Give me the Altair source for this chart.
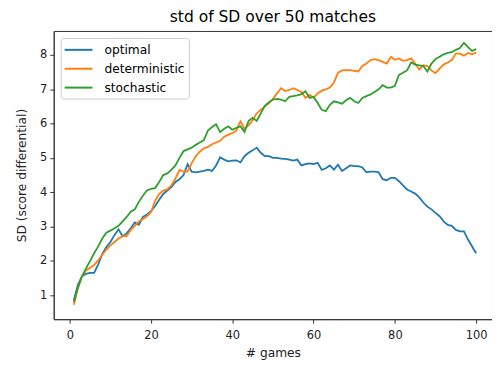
import altair as alt
import pandas as pd

games = list(range(1, 101))

optimal = [0.85, 1.3, 1.55, 1.62, 1.65, 1.65, 1.9, 2.2, 2.4, 2.55,
           2.75, 2.92, 2.72, 2.8, 2.95, 3.12, 3.05, 3.28, 3.35, 3.45,
           3.6, 3.78, 3.95, 4.05, 4.15, 4.3, 4.38, 4.5, 4.82, 4.6,
           4.58, 4.6, 4.62, 4.66, 4.62, 4.78, 5.02, 4.95, 4.9, 4.92,
           4.93, 4.87, 5.05, 5.15, 5.22, 5.3, 5.15, 5.05, 5.05, 5.0,
           5.0, 4.98, 4.97, 4.95, 4.92, 4.95, 4.78, 4.82, 4.84, 4.82,
           4.86, 4.65, 4.7, 4.78, 4.66, 4.8, 4.62, 4.7, 4.78, 4.76,
           4.76, 4.72, 4.58, 4.6, 4.6, 4.58, 4.38, 4.35, 4.42, 4.42,
           4.32, 4.2, 4.08, 4.02, 3.96, 3.85, 3.7, 3.58, 3.5, 3.4,
           3.3, 3.15, 3.05, 3.02, 2.9, 2.86, 2.86, 2.62, 2.42, 2.22]

deterministic = [0.72, 1.2, 1.55, 1.72, 1.8, 1.88, 2.02, 2.18, 2.33, 2.45,
                 2.55, 2.65, 2.72, 2.72, 2.9, 3.02, 3.15, 3.22, 3.3, 3.42,
                 3.75, 3.95, 4.05, 4.08, 4.2, 4.4, 4.65, 4.6, 4.6, 4.85,
                 5.05, 5.18, 5.28, 5.32, 5.4, 5.45, 5.5, 5.62, 5.68, 5.72,
                 5.8, 6.07, 5.85, 5.95, 6.1, 6.3, 6.4, 6.5, 6.6, 6.72,
                 6.88, 7.03, 6.95, 6.98, 7.03, 6.98, 6.92, 6.75, 6.84, 6.76,
                 6.88, 6.96, 7.0, 7.05, 7.2, 7.48, 7.55, 7.56, 7.56, 7.54,
                 7.52, 7.68, 7.75, 7.85, 7.88, 7.85, 7.8, 7.75, 7.95, 7.86,
                 7.9, 7.83, 7.85, 7.9, 7.75, 7.58, 7.7, 7.68, 7.55, 7.47,
                 7.6, 7.72, 7.78, 7.85, 8.04, 8.04, 7.98, 8.06, 8.02, 8.07]

stochastic = [0.8, 1.22, 1.55, 1.78, 2.0, 2.22, 2.42, 2.65, 2.82, 2.88,
              2.95, 3.02, 3.15, 3.28, 3.43, 3.5, 3.72, 3.9, 4.05, 4.1,
              4.12, 4.3, 4.5, 4.55, 4.65, 4.78, 5.0, 5.2, 5.25, 5.3,
              5.38, 5.45, 5.52, 5.8, 5.9, 5.98, 5.75, 5.85, 5.92, 5.82,
              5.88, 5.92, 5.76, 6.08, 6.17, 6.08, 6.3, 6.52, 6.62, 6.7,
              6.72, 6.7, 6.65, 6.78, 6.8, 6.82, 6.86, 6.94, 6.75, 6.78,
              6.6, 6.4, 6.36, 6.55, 6.65, 6.62, 6.58, 6.68, 6.75, 6.65,
              6.6, 6.75, 6.8, 6.85, 6.92, 7.0, 7.12, 7.05, 7.05, 7.1,
              7.42, 7.48, 7.55, 7.78, 7.72, 7.7, 7.68, 7.52, 7.75, 7.88,
              7.95, 8.02, 8.06, 8.08, 8.15, 8.2, 8.35, 8.23, 8.12, 8.17]

series_names = ["optimal", "deterministic", "stochastic"]
series_colors = ["#1f77b4", "#ff7f0e", "#2ca02c"]
x_ticks = [0, 20, 40, 60, 80, 100]
y_ticks = [1, 2, 3, 4, 5, 6, 7, 8]

rows = []
for name, vals in zip(series_names, [optimal, deterministic, stochastic]):
    for g, v in zip(games, vals):
        rows.append({"games": g, "SD": v, "series": name})
df = pd.DataFrame(rows)

FONT = "DejaVu Sans"

chart = alt.Chart(df).mark_line(strokeWidth=1.8).encode(
    x=alt.X("games:Q",
            scale=alt.Scale(domain=[-3.95, 103.9], nice=False, zero=False),
            axis=alt.Axis(title="# games", values=x_ticks, grid=False,
                          labelFontSize=11.5, titleFontSize=12.3,
                          titleFontWeight="normal", titlePadding=6,
                          tickSize=4, labelPadding=6)),
    y=alt.Y("SD:Q",
            scale=alt.Scale(domain=[0.30, 8.70], nice=False, zero=False),
            axis=alt.Axis(title="SD (score differential)", values=y_ticks,
                          grid=False, labelFontSize=11.5, titleFontSize=12.3,
                          titleFontWeight="normal", tickSize=4,
                          labelPadding=3, titlePadding=11)),
    color=alt.Color("series:N",
                    scale=alt.Scale(domain=series_names, range=series_colors),
                    sort=series_names,
                    legend=alt.Legend(title=None, orient="top-left",
                                      offset=7, fillColor="white",
                                      strokeColor="#cccccc", cornerRadius=3,
                                      padding=4, symbolType="M-2,0H2",
                                      symbolSize=196, symbolStrokeWidth=2,
                                      labelFontSize=12.3, rowPadding=4,
                                      symbolOffset=6, labelOffset=18)),
).properties(
    width=441, height=290,
    title=alt.TitleParams("std of SD over 50 matches", fontSize=15.6,
                          fontWeight="normal", font=FONT, offset=5),
    autosize=alt.AutoSizeParams(type="none"),
    padding={"left": 46, "top": 22, "right": 0, "bottom": 45},
).configure_view(
    stroke="#333333", strokeWidth=1
).configure_axis(
    labelFont=FONT, titleFont=FONT, domainColor="#333333",
    tickColor="#333333", labelColor="#222222", titleColor="#222222"
).configure_legend(
    labelFont=FONT
)

chart.save("out.html", embed_options={"renderer": "svg", "actions": False})
